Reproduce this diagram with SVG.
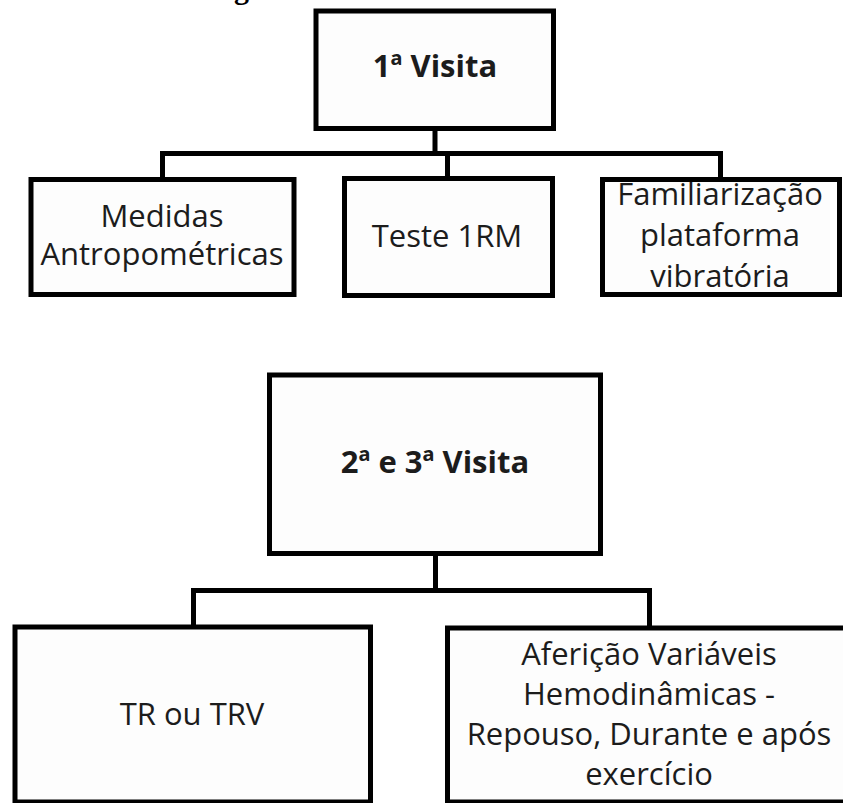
<svg xmlns="http://www.w3.org/2000/svg" width="843" height="803" viewBox="0 0 843 803">
<style>
.box{fill:#fdfdfd;stroke:#000;stroke-width:5}
.conn{fill:none;stroke:#000;stroke-width:5;stroke-linejoin:miter;stroke-linecap:square}
.t{font-family:"Open Sans","Liberation Sans",sans-serif;font-size:31px;fill:#1c1c1c;text-anchor:middle}
.b{font-weight:bold}
.cap{font-family:"Liberation Serif",serif;font-size:30px;font-weight:bold;fill:#000}
</style>
<rect width="843" height="803" fill="#fff"/>
<text class="cap" x="234" y="-1">g</text>
<g id="connectors">
<path class="conn" d="M435 128.5 V153.5 M162.5 177 V153.5 H720.5 V177 M447.5 153.5 V177"/>
<path class="conn" d="M435.5 553.5 V590.5 M193.5 627 V590.5 H649.5 V627"/>
</g>
<g id="visita1">
<rect class="box" x="316" y="11" width="237.5" height="117.5"/>
<text class="t b" x="435" y="77">1ª Visita</text>
</g>
<g id="medidas">
<rect class="box" x="31" y="179.5" width="263" height="115"/>
<text class="t" x="162" y="227">Medidas</text>
<text class="t" x="162" y="265">Antropométricas</text>
</g>
<g id="teste1rm">
<rect class="box" x="344.5" y="178.5" width="208" height="117"/>
<text class="t" x="447" y="247">Teste 1RM</text>
</g>
<g id="familiarizacao">
<rect class="box" x="602.5" y="179.5" width="237" height="115"/>
<text class="t" x="720" y="205">Familiarização</text>
<text class="t" x="720" y="246">plataforma</text>
<text class="t" x="720" y="287">vibratória</text>
</g>
<g id="visita23">
<rect class="box" x="269.5" y="375" width="331" height="178.5"/>
<text class="t b" x="435" y="473">2ª e 3ª Visita</text>
</g>
<g id="trtrv">
<rect class="box" x="15" y="627" width="355.5" height="175"/>
<text class="t" x="192" y="725">TR ou TRV</text>
</g>
<g id="afericao">
<rect class="box" x="447.5" y="628" width="420" height="174"/>
<text class="t" x="649" y="665">Aferição Variáveis</text>
<text class="t" x="649" y="705">Hemodinâmicas -</text>
<text class="t" x="649" y="745">Repouso, Durante e após</text>
<text class="t" x="649" y="785">exercício</text>
</g>
</svg>
